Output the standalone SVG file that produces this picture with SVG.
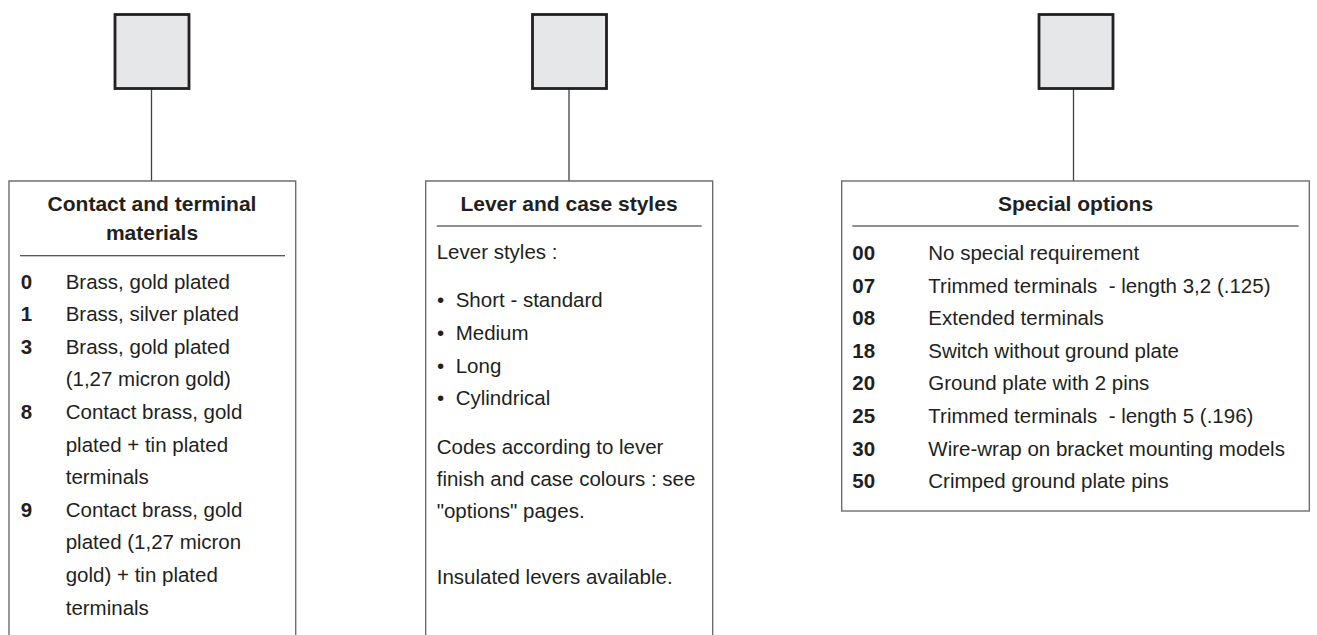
<svg xmlns="http://www.w3.org/2000/svg" width="1317" height="635" viewBox="0 0 1317 635">
<style>
.sq{fill:#e6e7e8;stroke:#231f20;stroke-width:2.8}
.pn{fill:#fff;stroke:#6d6e71;stroke-width:1.4}
.ru{stroke:#231f20;stroke-width:1.1}
.cn{stroke:#414042;stroke-width:1.3;fill:none}
text{font-family:"Liberation Sans",Arial,sans-serif;fill:#231f20}
.t{font-size:21px;font-weight:bold;text-anchor:middle}
.b{font-size:20.5px}
.n{font-size:20.5px;font-weight:bold}
</style>
<rect width="1317" height="635" fill="#fff"/>
<g id="connectors">
<line class="cn" x1="151.5" y1="89" x2="151.5" y2="181"/>
<line class="cn" x1="569" y1="89" x2="569" y2="181"/>
<line class="cn" x1="1073.5" y1="89" x2="1073.5" y2="181"/>
</g>
<g id="square1"><rect class="sq" x="115" y="14.5" width="74" height="74"/></g>
<g id="square2"><rect class="sq" x="532.5" y="14.5" width="74" height="74"/></g>
<g id="square3"><rect class="sq" x="1039" y="14.5" width="74" height="74"/></g>
<g id="panel1">
<path class="pn" d="M9,640 V181 H295.7 V640"/>
<text class="t" x="152" y="210.7">Contact and terminal</text>
<text class="t" x="152" y="239.5">materials</text>
<line class="ru" x1="20" y1="255.7" x2="285" y2="255.7"/>
<text class="n" x="20.7" y="288.5">0</text><text class="b" x="65.7" y="288.5">Brass, gold plated</text>
<text class="n" x="20.7" y="321.1">1</text><text class="b" x="65.7" y="321.1">Brass, silver plated</text>
<text class="n" x="20.7" y="353.7">3</text><text class="b" x="65.7" y="353.7">Brass, gold plated</text>
<text class="b" x="65.7" y="386.3">(1,27 micron gold)</text>
<text class="n" x="20.7" y="418.9">8</text><text class="b" x="65.7" y="418.9">Contact brass, gold</text>
<text class="b" x="65.7" y="451.5">plated + tin plated</text>
<text class="b" x="65.7" y="484.1">terminals</text>
<text class="n" x="20.7" y="516.7">9</text><text class="b" x="65.7" y="516.7">Contact brass, gold</text>
<text class="b" x="65.7" y="549.3">plated (1,27 micron</text>
<text class="b" x="65.7" y="581.9">gold) + tin plated</text>
<text class="b" x="65.7" y="614.5">terminals</text>
</g>
<g id="panel2">
<path class="pn" d="M425.7,640 V181 H712.7 V640"/>
<text class="t" x="569" y="210.7">Lever and case styles</text>
<line class="ru" x1="436.7" y1="226" x2="701.7" y2="226"/>
<text class="b" x="436.7" y="259.3">Lever styles :</text>
<text class="b" x="437" y="307.3">•</text><text class="b" x="455.7" y="307.3">Short - standard</text>
<text class="b" x="437" y="340">•</text><text class="b" x="455.7" y="340">Medium</text>
<text class="b" x="437" y="372.7">•</text><text class="b" x="455.7" y="372.7">Long</text>
<text class="b" x="437" y="405.3">•</text><text class="b" x="455.7" y="405.3">Cylindrical</text>
<text class="b" x="436.7" y="454">Codes according to lever</text>
<text class="b" x="436.7" y="485.7">finish and case colours : see</text>
<text class="b" x="436.7" y="518.3">"options" pages.</text>
<text class="b" x="436.7" y="584">Insulated levers available.</text>
</g>
<g id="panel3">
<rect class="pn" x="841.7" y="181" width="467.6" height="330"/>
<text class="t" x="1075.5" y="210.7">Special options</text>
<line class="ru" x1="852.3" y1="226" x2="1298.7" y2="226"/>
<text class="n" x="852.3" y="260">00</text><text class="b" x="928.3" y="260">No special requirement</text>
<text class="n" x="852.3" y="292.6">07</text><text class="b" x="928.3" y="292.6" xml:space="preserve">Trimmed terminals  - length 3,2 (.125)</text>
<text class="n" x="852.3" y="325.2">08</text><text class="b" x="928.3" y="325.2">Extended terminals</text>
<text class="n" x="852.3" y="357.8">18</text><text class="b" x="928.3" y="357.8">Switch without ground plate</text>
<text class="n" x="852.3" y="390.4">20</text><text class="b" x="928.3" y="390.4">Ground plate with 2 pins</text>
<text class="n" x="852.3" y="423">25</text><text class="b" x="928.3" y="423" xml:space="preserve">Trimmed terminals  - length 5 (.196)</text>
<text class="n" x="852.3" y="455.6">30</text><text class="b" x="928.3" y="455.6">Wire-wrap on bracket mounting models</text>
<text class="n" x="852.3" y="488.2">50</text><text class="b" x="928.3" y="488.2">Crimped ground plate pins</text>
</g>
</svg>
